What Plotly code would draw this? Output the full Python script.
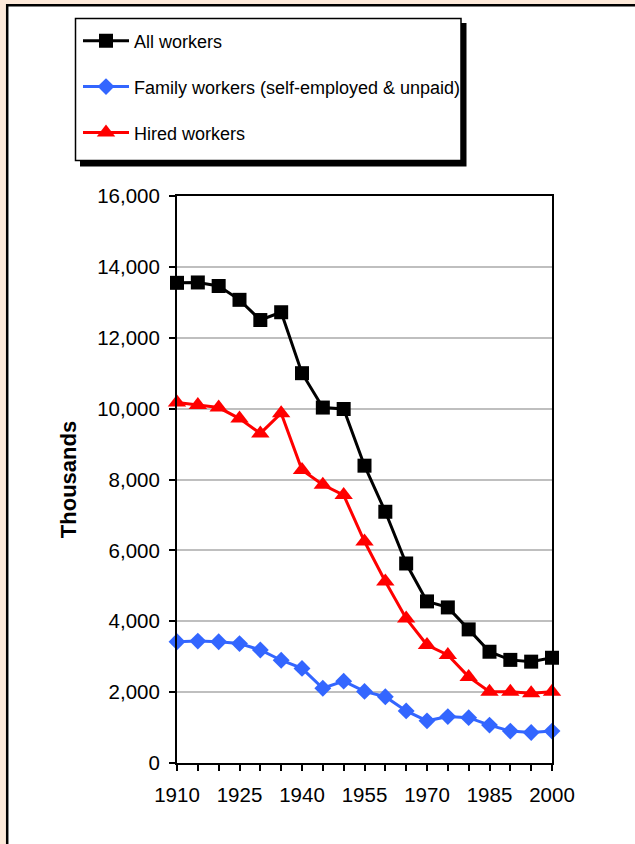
import plotly.graph_objects as go

years = [1910, 1915, 1920, 1925, 1930, 1935, 1940, 1945, 1950, 1955,
         1960, 1965, 1970, 1975, 1980, 1985, 1990, 1995, 2000]
all_workers = [13550, 13560, 13460, 13070, 12500, 12720, 11000, 10030, 9990, 8390,
               7090, 5630, 4560, 4390, 3770, 3140, 2910, 2860, 2970]
family_workers = [3420, 3440, 3420, 3370, 3190, 2900, 2670, 2110, 2310, 2020,
                  1870, 1470, 1190, 1310, 1280, 1070, 900, 860, 900]
hired_workers = [10170, 10100, 10030, 9720, 9300, 9870, 8270, 7850, 7560, 6250,
                 5120, 4080, 3330, 3050, 2430, 2010, 2010, 1970, 2010]
tick_labels = ["1910", "", "", "1925", "", "", "1940", "", "", "1955", "", "",
               "1970", "", "", "1985", "", "", "2000"]

W, H = 635, 844
ML, MR, MT, MB = 177, 83, 196, 81
PW, PH = W - ML - MR, H - MT - MB


def px(x):
    return (x - ML) / PW


def py(y):
    return (H - MB - y) / PH


FONT = "Liberation Sans, Arial, sans-serif"

fig = go.Figure()
fig.add_trace(go.Scatter(
    x=years, y=all_workers, name="All workers", mode="lines+markers",
    line=dict(color="#000000", width=3),
    marker=dict(symbol="square", size=14, color="#000000"),
    legendgroup="a", cliponaxis=False))
fig.add_trace(go.Scatter(
    x=years, y=family_workers, name="Family workers (self-employed & unpaid)",
    mode="lines+markers",
    line=dict(color="#3366FF", width=3),
    marker=dict(symbol="diamond", size=13, color="#3366FF"),
    legendgroup="b", cliponaxis=False))
fig.add_trace(go.Scatter(
    x=years, y=hired_workers, name="Hired workers", mode="lines+markers",
    line=dict(color="#FF0000", width=3),
    marker=dict(symbol="triangle-up", size=16, color="#FF0000"),
    legendgroup="c", cliponaxis=False))

shapes = [
    # peach page background
    dict(type="rect", xref="paper", yref="paper", x0=px(-5), x1=px(W + 5),
         y0=py(H + 5), y1=py(-5), fillcolor="#FDE9D9", line=dict(width=0),
         layer="below"),
    # white chart area with black frame
    dict(type="rect", xref="paper", yref="paper", x0=px(7.2), x1=px(W + 20),
         y0=py(H + 20), y1=py(5.2), fillcolor="#FFFFFF",
         line=dict(color="#000000", width=2.5), layer="below"),
    # legend shadow
    dict(type="rect", xref="paper", yref="paper", x0=px(80), x1=px(466.5),
         y0=py(166.5), y1=py(23), fillcolor="#000000", line=dict(width=0),
         layer="below"),
    # legend box
    dict(type="rect", xref="paper", yref="paper", x0=px(75.5), x1=px(461),
         y0=py(160.5), y1=py(18.5), fillcolor="#FFFFFF",
         line=dict(color="#000000", width=1.5), layer="below"),
]

fig.update_layout(
    width=W, height=H,
    margin=dict(l=ML, r=MR, t=MT, b=MB, autoexpand=False),
    paper_bgcolor="#FFFFFF", plot_bgcolor="#FFFFFF",
    font=dict(family=FONT, size=20, color="#000000"),
    shapes=shapes,
    showlegend=True,
    legend=dict(
        x=px(78), y=py(22.5), xanchor="left", yanchor="top",
        bgcolor="rgba(0,0,0,0)", borderwidth=0,
        font=dict(family=FONT, size=18, color="#000000"),
        tracegroupgap=19.5, itemwidth=46, traceorder="grouped",
    ),
    xaxis=dict(
        range=[1910, 2000], tickmode="array", tickvals=years, ticktext=tick_labels,
        showline=True, linecolor="#000000", linewidth=2, mirror=True,
        ticks="outside", ticklen=6, tickwidth=1.5, tickcolor="#000000",
        showgrid=False, zeroline=False, ticklabelstandoff=6,
        tickfont=dict(family=FONT, size=20.5, color="#000000"),
    ),
    yaxis=dict(
        range=[0, 16000], tickmode="linear", tick0=0, dtick=2000, tickformat=",",
        showline=True, linecolor="#000000", linewidth=2, mirror=True,
        ticks="outside", ticklen=6, tickwidth=1.5, tickcolor="#000000",
        showgrid=True, gridcolor="#BFBFBF", gridwidth=1.5, zeroline=False,
        ticklabelstandoff=5,
        tickfont=dict(family=FONT, size=20.5, color="#000000"),
        title=dict(text="<b>Thousands</b>", standoff=14,
                   font=dict(family=FONT, size=22, color="#000000")),
    ),
)

fig.write_html("out.html",
               config={"displayModeBar": False},
               post_script="document.body.style.margin='0';"
                           "document.body.style.overflow='hidden';")
